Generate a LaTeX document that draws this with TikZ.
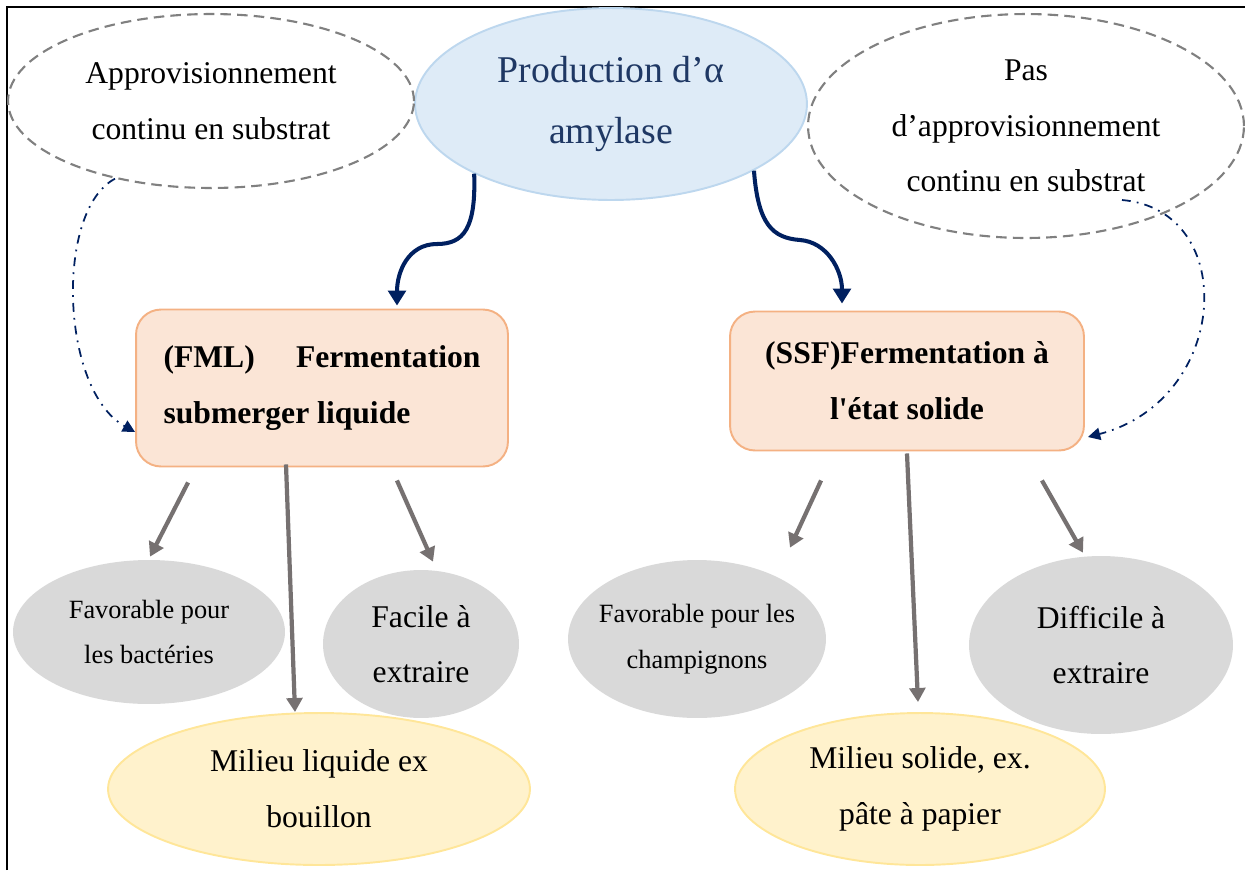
\documentclass[tikz,border=0pt]{standalone}
\usepackage{fontspec}
\setmainfont{Liberation Serif}
\usetikzlibrary{arrows.meta,shapes.geometric,calc}
\definecolor{navyline}{RGB}{0,32,96}
\definecolor{dashgray}{RGB}{128,128,128}
\definecolor{arrowgray}{RGB}{118,113,113}
\definecolor{titleblue}{RGB}{31,56,100}
\definecolor{bluefill}{RGB}{222,235,247}
\definecolor{blueline}{RGB}{189,215,238}
\definecolor{peachfill}{RGB}{251,229,214}
\definecolor{peachline}{RGB}{244,177,131}
\definecolor{grayfill}{RGB}{217,217,217}
\definecolor{yellowfill}{RGB}{255,242,204}
\definecolor{yellowline}{RGB}{255,230,153}
\newcommand{\mainsize}{\fontsize{18}{31.7}\selectfont}
\newcommand{\smallsize}{\fontsize{15}{26}\selectfont}
\newcommand{\titlesize}{\fontsize{21.5}{35}\selectfont}

\begin{document}
\begin{tikzpicture}[x=0.02cm, y=-0.02cm,
  dashbubble/.style={ellipse, draw=dashgray, line width=1.2pt, dash pattern=on 6pt off 3.5pt, inner sep=0pt, align=center, font=\mainsize},
  graybubble/.style={ellipse, fill=grayfill, inner sep=0pt, align=center, font=\mainsize},
  yellowbubble/.style={ellipse, draw=yellowline, line width=1.1pt, fill=yellowfill, inner sep=0pt, align=center, font=\mainsize},
  fermbox/.style={draw=peachline, line width=1.1pt, fill=peachfill, rounded corners=0.5cm, inner sep=0pt, font=\mainsize\bfseries},
  navyarrow/.style={navyline, line width=2.3pt, -{Triangle[length=8.5pt,width=10pt]}},
  grayarrow/.style={arrowgray, line width=2.4pt, -{Triangle[length=8pt,width=9pt]}},
  feedarrow/.style={navyline, line width=1pt, dash pattern=on 5pt off 3.5pt on 1pt off 3.5pt, -{Triangle[length=7pt,width=7pt]}}]
  \useasboundingbox (0,0) rectangle (1245,870);

  % Frame
  \draw[line width=1.1pt] (7,870) -- (7,7) -- (1245,7);

  % Title
  \node[ellipse, draw=blueline, line width=1.1pt, fill=bluefill, minimum width=7.84cm, minimum height=3.84cm, inner sep=0pt, align=center, font=\titlesize, text=titleblue] (prod) at (611,104) {Production d’α\\amylase};

  % Substrate supply
  \node[dashbubble, minimum width=8.12cm, minimum height=3.48cm] (cont) at (211,101) {Approvisionnement\\continu en substrat};
  \node[dashbubble, minimum width=8.72cm, minimum height=4.48cm] (nocont) at (1026,126) {Pas\\d’approvisionnement\\continu en substrat};

  % Fermentation types
  \node[fermbox, minimum width=7.44cm, minimum height=3.14cm, text width=6.34cm, align=justify] (fml) at (322,388) {(FML) Fermentation submerger liquide};
  \node[fermbox, minimum width=7.08cm, minimum height=2.78cm, align=center] (ssf) at (907,381) {(SSF)Fermentation à\\l\textquotesingle état solide};

  % Properties FML
  \node[graybubble, minimum width=5.44cm, minimum height=2.88cm, inner xsep=-0.6cm, font=\smallsize] (bact) at (149,632) {Favorable pour\\les bactéries};
  \node[graybubble, minimum width=3.92cm, minimum height=2.96cm] (easy) at (421,644) {Facile à\\extraire};
  \node[yellowbubble, minimum width=8.44cm, minimum height=3.04cm] (liq) at (319,789) {Milieu liquide ex\\bouillon};

  % Properties SSF
  \node[graybubble, minimum width=5.16cm, minimum height=3.16cm, inner xsep=-0.8cm, font=\smallsize] (champ) at (697,639) {Favorable pour les\\champignons};
  \node[graybubble, minimum width=5.28cm, minimum height=3.56cm] (hard) at (1101,645) {Difficile à\\extraire};
  \node[yellowbubble, minimum width=7.4cm, minimum height=3.04cm] (sol) at (920,789) {Milieu solide, ex.\\pâte à papier};

  % Main arrows
  \draw[navyarrow] (prod.207) .. controls (476,228) and (464,244) .. (437,244) .. controls (408,244) and (397,272) .. ($(fml.north)+(75,-3)$);
  \draw[navyarrow] (prod.335) .. controls (758,225) and (773,238) .. (800,240) .. controls (827,242) and (842,270) .. ($(ssf.north)+(-65,-7)$);

  % Supply arrows
  \draw[feedarrow] (cont.219) .. controls (55,210) and (60,390) .. ($(fml.west)+(0,44)$);
  \draw[feedarrow] ($(nocont.center)+(96,74)$) .. controls (1240,210) and (1230,400) .. ($(ssf.east)+(3,56)$);

  % Property arrows
  \draw[grayarrow] ($(fml.south west)+(53,15)$) -- ($(bact.north)+(1,-3)$);
  \draw[grayarrow] ($(fml.south)+(-36,-3)$) -- ($(liq.north)+(-24,0)$);
  \draw[grayarrow] ($(fml.south east)+(-112,13)$) -- ($(easy.north)+(12,-8)$);
  \draw[grayarrow] ($(ssf.south west)+(92,29)$) -- ($(champ.north)+(93,-12)$);
  \draw[grayarrow] ($(ssf.south)+(0,2)$) -- ($(sol.north)+(-2,-10)$);
  \draw[grayarrow] ($(ssf.south east)+(-43,29)$) -- ($(hard.north)+(-18,-3)$);
\end{tikzpicture}
\end{document}
